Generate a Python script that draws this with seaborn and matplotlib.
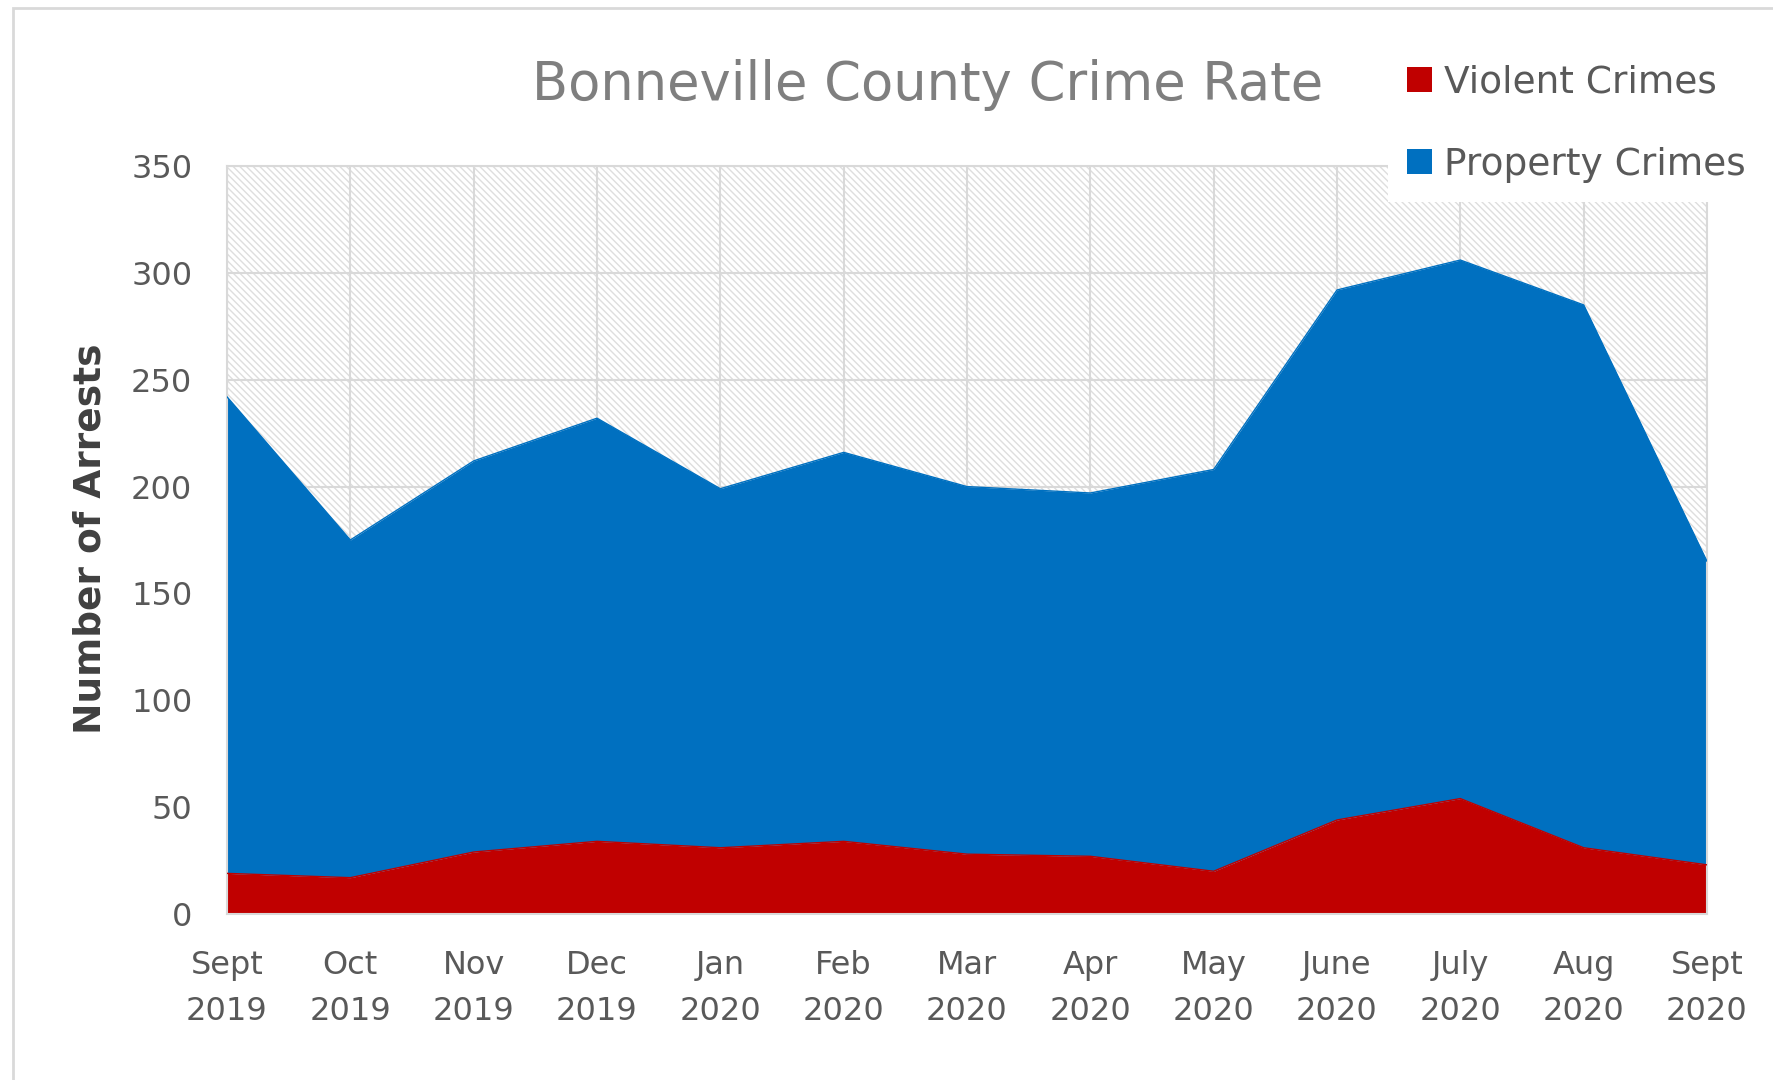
import numpy as np
import pandas as pd
import matplotlib
matplotlib.use("Agg")
import matplotlib.pyplot as plt
from matplotlib.patches import Rectangle, Patch
import seaborn as sns

# ---- data ----
months = ["Sept", "Oct", "Nov", "Dec", "Jan", "Feb", "Mar", "Apr", "May",
          "June", "July", "Aug", "Sept"]
years = ["2019", "2019", "2019", "2019", "2020", "2020", "2020", "2020", "2020",
         "2020", "2020", "2020", "2020"]
violent = [19, 17, 29, 34, 31, 34, 28, 27, 20, 44, 54, 31, 23]
property_ = [223, 158, 183, 198, 168, 182, 172, 170, 188, 248, 252, 254, 142]
series_names = ["Violent Crimes", "Property Crimes"]
title_text = "Bonneville County Crime Rate"
ylabel_text = "Number of Arrests"
y_ticks = [0, 50, 100, 150, 200, 250, 300, 350]

RED = "#C00000"
BLUE = "#0070C0"
GRID = "#d9d9d9"
HATCH = "#dedede"
TXT = "#595959"

sns.set_theme(style="white")
plt.rcParams["font.family"] = ["DejaVu Sans"]
plt.rcParams["hatch.linewidth"] = 1.0

df = pd.DataFrame({
    "pos": np.arange(len(months)),
    "label": [f"{m}\n{y}" for m, y in zip(months, years)],
    "violent": violent,
    "property": property_,
})
df["total"] = df["violent"] + df["property"]

fig = plt.figure(figsize=(17.73, 10.80), dpi=100)
W, H = 1773, 1080
left, right, top, bottom = 227, 1707, 166, 914
ax = fig.add_axes([left / W, 1 - bottom / H, (right - left) / W, (bottom - top) / H])

# hatched plot-area background
ax.add_patch(Rectangle((0, 0), 1, 1, transform=ax.transAxes, facecolor="white",
                       edgecolor=HATCH, hatch="\\\\\\\\\\", linewidth=0, zorder=0))

ax.fill_between(df["pos"], 0, df["violent"], color=RED, linewidth=0, zorder=2)
ax.fill_between(df["pos"], df["violent"], df["total"], color=BLUE, linewidth=0, zorder=2)
sns.lineplot(data=df, x="pos", y="violent", color=RED, lw=1, ax=ax, zorder=3)
sns.lineplot(data=df, x="pos", y="total", color=BLUE, lw=1, ax=ax, zorder=3)

ax.set_xlim(0, len(months) - 1)
ax.set_ylim(0, 350)
ax.set_yticks(y_ticks)
ax.set_yticklabels([str(v) for v in y_ticks])
ax.set_xticks(df["pos"])
ax.set_xticklabels(df["label"], linespacing=1.6)
ax.tick_params(axis="x", length=0, pad=26, labelsize=23, labelcolor=TXT)
ax.tick_params(axis="y", length=0, pad=25, labelsize=23, labelcolor=TXT)
ax.set_xlabel("")
ax.set_ylabel("")
ax.set_axisbelow(True)
ax.grid(True, color=GRID, linewidth=1.5, zorder=0.5)
for s in ax.spines.values():
    s.set_color(GRID)
    s.set_linewidth(1.5)

fig.text(91 / W, 1 - 539 / H, ylabel_text, rotation=90, ha="center", va="center",
         fontsize=27, fontweight="bold", color="#404040")
fig.text(928 / W, 1 - 100 / H, title_text, ha="center", va="baseline",
         fontsize=38, color="#7f7f7f")

handles = [Patch(facecolor=RED, edgecolor="none"), Patch(facecolor=BLUE, edgecolor="none")]
leg = fig.legend(handles, series_names, loc="upper left",
                 bbox_to_anchor=(1388 / W, 1 - 46 / H), frameon=True,
                 fontsize=27, labelcolor=TXT, handlelength=0.66, handleheight=0.66,
                 handletextpad=0.32, labelspacing=1.23, borderpad=0.5,
                 borderaxespad=0, fancybox=False)
leg.get_frame().set_facecolor("white")
leg.get_frame().set_edgecolor("none")
leg.get_frame().set_alpha(1)
leg.set_zorder(10)

# outer chart frame
fig.add_artist(Rectangle((13 / W, -0.1), 1.2, 1 - 8 / H + 0.1, transform=fig.transFigure,
                         facecolor="none", edgecolor=GRID, linewidth=2, zorder=-1))

fig.savefig("out.png", dpi=100, facecolor="white")
